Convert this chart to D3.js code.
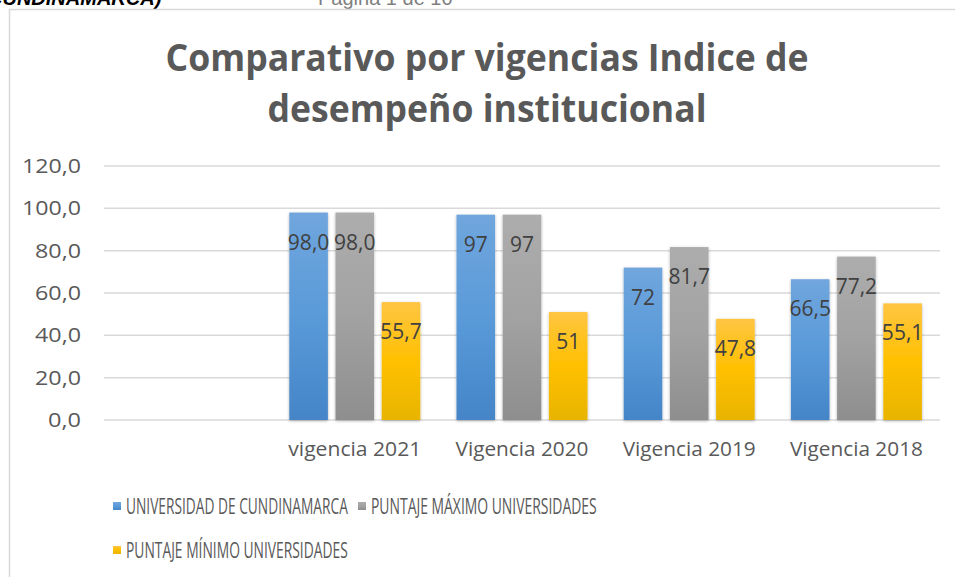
<!DOCTYPE html>
<html lang="en">
<head>
<meta charset="UTF-8">
<title>Comparativo por vigencias</title>
<script src="https://d3js.org/d3.v7.min.js"></script>
<style>
  body { margin: 0; background: #fff; overflow: hidden; }
  svg text { font-family: "Open Sans", sans-serif; }
</style>
</head>
<body>
<svg id="chart" width="955" height="577"></svg>
<script>
// data
var categories = ["", "vigencia 2021", "Vigencia 2020", "Vigencia 2019", "Vigencia 2018"];
var seriesNames = ["UNIVERSIDAD DE CUNDINAMARCA", "PUNTAJE MÁXIMO UNIVERSIDADES", "PUNTAJE MÍNIMO UNIVERSIDADES"];
var uCundinamarca = [null, 98.0, 97, 72, 66.5];
var puntajeMaximo = [null, 98.0, 97, 81.7, 77.2];
var puntajeMinimo = [null, 55.7, 51, 47.8, 55.1];
var labelsU = ["", "98,0", "97", "72", "66,5"];
var labelsMax = ["", "98,0", "97", "81,7", "77,2"];
var labelsMin = ["", "55,7", "51", "47,8", "55,1"];
var yTicks = [0, 20, 40, 60, 80, 100, 120];
var titleLines = ["Comparativo por vigencias Indice de", "desempeño institucional"];

var series = [
  { name: seriesNames[0], values: uCundinamarca, labels: labelsU, grad: "gBlue" },
  { name: seriesNames[1], values: puntajeMaximo, labels: labelsMax, grad: "gGray" },
  { name: seriesNames[2], values: puntajeMinimo, labels: labelsMin, grad: "gYellow" }
];

var svg = d3.select("#chart");

// gradients
var defs = svg.append("defs");
function grad(id, stops) {
  var g = defs.append("linearGradient").attr("id", id)
    .attr("x1", 0).attr("y1", 0).attr("x2", 0).attr("y2", 1);
  stops.forEach(function(s) {
    g.append("stop").attr("offset", s[0]).attr("stop-color", s[1]);
  });
}
grad("gBlue", [[0, "#70a6dd"], [0.5, "#5a9ad9"], [1, "#4485c8"]]);
grad("gGray", [[0, "#adadad"], [0.5, "#a2a2a2"], [1, "#8e8e8e"]]);
grad("gYellow", [[0, "#ffc542"], [0.5, "#ffc000"], [1, "#e8b400"]]);
var shadow = defs.append("filter").attr("id", "sh")
  .attr("x", "-20%").attr("y", "-5%").attr("width", "140%").attr("height", "115%");
shadow.append("feDropShadow").attr("dx", 0).attr("dy", 1).attr("stdDeviation", 1.5)
  .attr("flood-color", "#000").attr("flood-opacity", 0.3);

// page text cut at the top
svg.append("text").attr("x", -12).attr("y", 5)
  .style("font-family", "Liberation Sans").style("font-weight", "bold").style("font-style", "italic")
  .style("font-size", "20px").attr("fill", "#000").text("CUNDINAMARCA)");
svg.append("text").attr("x", 318).attr("y", 5)
  .style("font-family", "Liberation Sans")
  .style("font-size", "20px").attr("fill", "#7f7f7f").text("Página 1 de 10");

// chart frame
svg.append("rect").attr("x", 9.5).attr("y", 9.5).attr("width", 1000).attr("height", 600)
  .attr("fill", "none").attr("stroke", "#d9d9d9").attr("stroke-width", 1.5);

// title
svg.selectAll(".title").data(titleLines).enter().append("text")
  .attr("class", "title")
  .attr("x", 487).attr("y", function(d, i) { return 71 + i * 51; })
  .attr("text-anchor", "middle")
  .style("font-weight", "bold")
  .style("font-size", "37px").attr("fill", "#595959")
  .attr("textLength", function(d, i) { return i === 0 ? 643 : 439; })
  .attr("lengthAdjust", "spacingAndGlyphs")
  .text(function(d) { return d; });

// scales
var plotLeft = 104, plotRight = 940, plotTop = 166, plotBottom = 420;
var x0 = d3.scaleBand().domain(categories).range([plotLeft, plotRight]);
var x1 = d3.scaleBand().domain([0, 1, 2]).range([0, 131]).paddingInner(0.165);
var y = d3.scaleLinear().domain([0, 120]).range([plotBottom, plotTop]);

// gridlines
svg.append("g").selectAll("line").data(yTicks).enter().append("line")
  .attr("x1", plotLeft).attr("x2", plotRight)
  .attr("y1", function(d) { return y(d); }).attr("y2", function(d) { return y(d); })
  .attr("stroke", "#d9d9d9").attr("stroke-width", 1.5);

// y axis
var yAxis = svg.append("g").attr("transform", "translate(" + plotLeft + ",0)")
  .call(d3.axisLeft(y).tickValues(yTicks).tickSize(0).tickPadding(23)
    .tickFormat(function(d) { return d3.format(".1f")(d).replace(".", ","); }));
yAxis.select(".domain").remove();
yAxis.selectAll("text").style("font-size", "20px").attr("fill", "#595959")
  .style("font-family", "Open Sans, sans-serif")
  .attr("textLength", 59).attr("lengthAdjust", "spacingAndGlyphs");
yAxis.selectAll("text").filter(function(d) { return d < 100; }).attr("textLength", 46);
yAxis.selectAll("text").filter(function(d) { return d === 0; }).attr("textLength", 33);

// x axis
var xAxis = svg.append("g").attr("transform", "translate(0," + plotBottom + ")")
  .call(d3.axisBottom(x0).tickSize(0).tickPadding(22));
xAxis.select(".domain").remove();
xAxis.selectAll("text").style("font-size", "20px").attr("fill", "#595959")
  .style("font-family", "Open Sans, sans-serif")
  .attr("textLength", function(d) { return d ? 133 : null; })
  .attr("lengthAdjust", "spacingAndGlyphs");

// bars
var groups = svg.append("g").selectAll("g").data(categories.slice(1)).enter().append("g")
  .attr("transform", function(d) { return "translate(" + (x0(d) + x0.bandwidth() / 2 - 65.5) + ",0)"; });

groups.each(function(cat) {
  var ci = categories.indexOf(cat);
  var g = d3.select(this);
  series.forEach(function(s, si) {
    var v = s.values[ci];
    g.append("rect")
      .attr("x", x1(si)).attr("width", x1.bandwidth())
      .attr("y", y(v)).attr("height", y(0) - y(v))
      .attr("fill", "url(#" + s.grad + ")")
      .attr("filter", "url(#sh)");
  });
  series.forEach(function(s, si) {
    var v = s.values[ci];
    g.append("text")
      .attr("x", x1(si) + x1.bandwidth() / 2)
      .attr("y", y(v) + 37)
      .attr("text-anchor", "middle")
      .style("font-size", "21px").attr("fill", "#404040")
      .text(s.labels[ci]);
  });
});

// legend (text squeezed horizontally like the narrow original font)
var legendPos = [[113, 506], [358, 506], [113, 550]];
var legendW = [222, 226, 222];
var legend = svg.append("g").selectAll("g").data(series).enter().append("g")
  .attr("transform", function(d, i) { return "translate(" + legendPos[i][0] + "," + legendPos[i][1] + ")"; });
legend.append("rect").attr("x", 0).attr("y", -4).attr("width", 8).attr("height", 8)
  .attr("fill", function(d) { return "url(#" + d.grad + ")"; });
legend.append("text").attr("x", 0).attr("y", 7.5)
  .style("font-size", "21px").attr("fill", "#595959")
  .text(function(d) { return d.name; })
  .attr("transform", function(d, i) {
    var k = legendW[i] / this.getComputedTextLength();
    return "translate(13,0) scale(" + k + ",1)";
  });
</script>
</body>
</html>
